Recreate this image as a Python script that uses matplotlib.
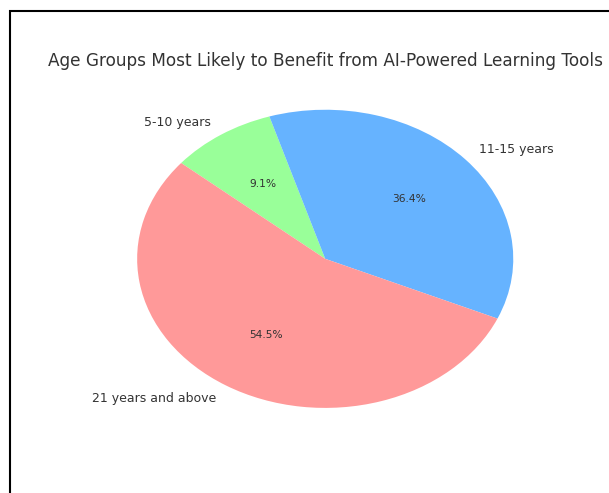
import matplotlib
matplotlib.use("Agg")
import matplotlib.pyplot as plt
from matplotlib.patches import Rectangle

# data
labels = ['5-10 years', '11-15 years', '21 years and above']
sizes = [1, 4, 6]
colors = ['#99ff99', '#66b3ff', '#ff9999']

fig = plt.figure(figsize=(6.09, 4.93), dpi=100)
ax = fig.add_axes([0.148, 0.097, 0.772, 0.756])

wedges, texts, autotexts = ax.pie(sizes, labels=labels, colors=colors,
                                  autopct='%1.1f%%', startangle=140,
                                  counterclock=False,
                                  textprops={'fontsize': 9, 'color': '#333333'})
for t in autotexts:
    t.set_fontsize(7.7)

ax.set_aspect('auto')
ax.set_xlim(-1.25, 1.25)
ax.set_ylim(-1.25, 1.25)
ax.set_title('Age Groups Most Likely to Benefit from AI-Powered Learning Tools',
             fontsize=12.2, color='#333333', pad=5)

# border of the screenshot
fig.patches.append(Rectangle((10 / 609, -0.1), 2, (493 - 11) / 493 + 0.1,
                             transform=fig.transFigure, fill=False,
                             edgecolor='black', linewidth=1.5))

fig.savefig('out.png', dpi=100)
